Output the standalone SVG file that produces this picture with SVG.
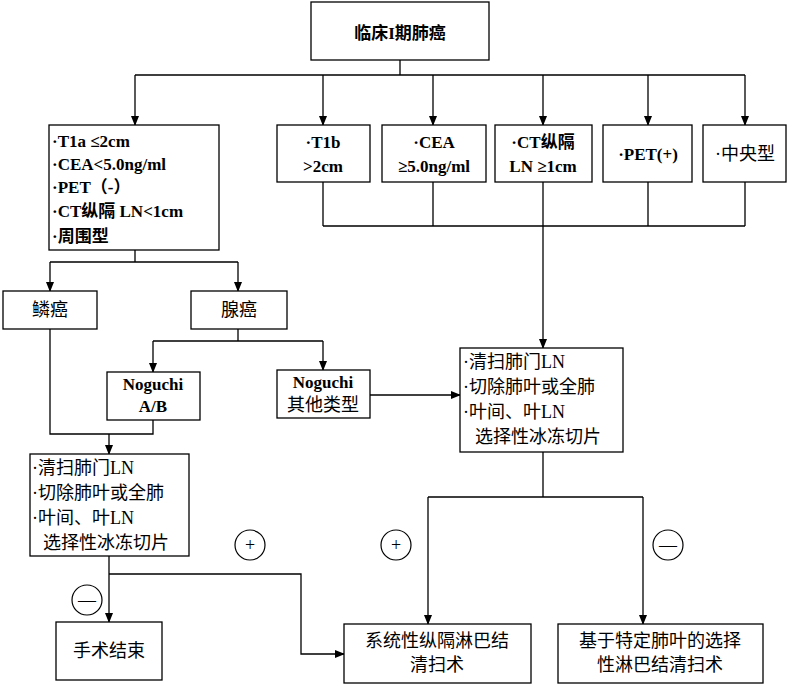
<svg xmlns="http://www.w3.org/2000/svg" width="789" height="684" viewBox="0 0 789 684">
<style>
rect{fill:#fff;stroke:#000;stroke-width:1.3}
text{font-family:"Liberation Serif","Noto Sans CJK SC",serif;font-size:17px;font-weight:bold;fill:#000}
.c{text-anchor:middle}
.l{fill:none;stroke:#000;stroke-width:1.3}
circle{fill:none;stroke:#000;stroke-width:1.2}
.s{font-size:18px;font-weight:normal}
</style>
<defs><marker id="a" markerWidth="10" markerHeight="10" refX="9" refY="5" orient="auto" markerUnits="userSpaceOnUse"><path d="M0,1 L10,5 L0,9 Z" fill="#000"/></marker></defs>
<g id="connectors">
<path class="l" d="M400,60V75M135,75H745"/>
<path class="l" marker-end="url(#a)" d="M135,75V125"/>
<path class="l" marker-end="url(#a)" d="M323,75V125"/>
<path class="l" marker-end="url(#a)" d="M433,75V125"/>
<path class="l" marker-end="url(#a)" d="M543,75V125"/>
<path class="l" marker-end="url(#a)" d="M648,75V125"/>
<path class="l" marker-end="url(#a)" d="M745,75V125"/>
<path class="l" d="M323,182V226M433,182V226M648,182V226M745,182V226M323,226H745"/>
<path class="l" marker-end="url(#a)" d="M543,182V348"/>
<path class="l" d="M135,250V262M50,262H238"/>
<path class="l" marker-end="url(#a)" d="M50,262V291"/>
<path class="l" marker-end="url(#a)" d="M238,262V291"/>
<path class="l" d="M238,329V341M153,341H323"/>
<path class="l" marker-end="url(#a)" d="M153,341V372"/>
<path class="l" marker-end="url(#a)" d="M323,341V370"/>
<path class="l" marker-end="url(#a)" d="M370,395H460"/>
<path class="l" d="M50,329V434H153V420"/>
<path class="l" marker-end="url(#a)" d="M109,434V454"/>
<path class="l" marker-end="url(#a)" d="M109,556V622"/>
<path class="l" marker-end="url(#a)" d="M109,574H301V654H344"/>
<path class="l" d="M543,452V497M428,497H643"/>
<path class="l" marker-end="url(#a)" d="M428,497V624"/>
<path class="l" marker-end="url(#a)" d="M643,497V624"/>
</g>
<g id="n0"><rect x="311" y="2" width="178" height="58"/><text class="c" x="400" y="39" font-size="20" font-weight="normal">临床I期肺癌</text></g>
<g id="n1"><rect x="49" y="125" width="170" height="125"/>
<text x="52" y="147">·T1a ≤2cm</text><text x="52" y="170">·CEA&lt;5.0ng/ml</text><text x="52" y="193">·PET（-）</text><text x="52" y="217">·CT纵隔  LN&lt;1cm</text><text x="52" y="242">·周围型</text></g>
<g id="n2"><rect x="277" y="125" width="93" height="57"/><text class="c" x="323" y="148">·T1b</text><text class="c" x="323" y="172">&gt;2cm</text></g>
<g id="n3"><rect x="382" y="125" width="104" height="57"/><text class="c" x="434" y="148">·CEA</text><text class="c" x="434" y="172">≥5.0ng/ml</text></g>
<g id="n4"><rect x="495" y="125" width="97" height="57"/><text class="c" x="543" y="148">·CT纵隔</text><text class="c" x="543" y="172">LN ≥1cm</text></g>
<g id="n5"><rect x="603" y="125" width="89" height="57"/><text class="c" x="648" y="160">·PET(+)</text></g>
<g id="n6"><rect x="703" y="125" width="83" height="57"/><text class="c s" x="745" y="160">·中央型</text></g>
<g id="n7"><rect x="3" y="291" width="94" height="38"/><text class="c s" x="50" y="316">鳞癌</text></g>
<g id="n8"><rect x="191" y="291" width="96" height="38"/><text class="c s" x="239" y="316">腺癌</text></g>
<g id="n9"><rect x="107" y="372" width="93" height="48"/><text class="c" x="153" y="390">Noguchi</text><text class="c" x="153" y="412">A/B</text></g>
<g id="n10"><rect x="277" y="370" width="93" height="48"/><text class="c" x="323" y="388">Noguchi</text><text class="c s" x="323" y="411">其他类型</text></g>
<g id="n11"><rect x="460" y="348" width="163" height="104"/><text class="s" x="463" y="368">·清扫肺门LN</text><text class="s" x="463" y="393">·切除肺叶或全肺</text><text class="s" x="463" y="418">·叶间、叶LN</text><text class="s" x="475" y="443">选择性冰冻切片</text></g>
<g id="n12"><rect x="30" y="454" width="159" height="102"/><text class="s" x="32" y="474">·清扫肺门LN</text><text class="s" x="32" y="499">·切除肺叶或全肺</text><text class="s" x="32" y="524">·叶间、叶LN</text><text class="s" x="43" y="549">选择性冰冻切片</text></g>
<g id="n13"><rect x="56" y="622" width="106" height="58"/><text class="c s" x="109" y="657">手术结束</text></g>
<g id="n14"><rect x="344" y="624" width="187" height="59"/><text class="c s" x="437" y="647">系统性纵隔淋巴结</text><text class="c s" x="437" y="671">清扫术</text></g>
<g id="n15"><rect x="558" y="624" width="205" height="59"/><text class="c s" x="660" y="647">基于特定肺叶的选择</text><text class="c s" x="660" y="671">性淋巴结清扫术</text></g>
<g id="signs">
<circle cx="250" cy="545" r="15"/><text class="c s" x="250" y="551">+</text>
<circle cx="87" cy="600" r="15"/><text class="c s" x="87" y="606">—</text>
<circle cx="396" cy="545" r="15"/><text class="c s" x="396" y="551">+</text>
<circle cx="668" cy="545" r="15"/><text class="c s" x="668" y="551">—</text>
</g>
</svg>
